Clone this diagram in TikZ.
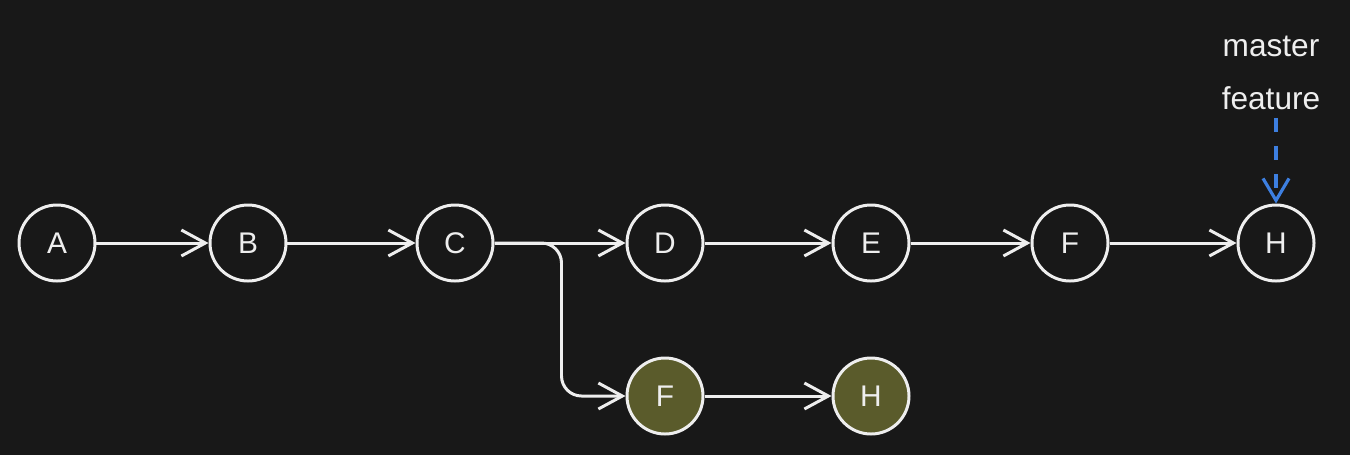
\documentclass[tikz,border=0pt]{standalone}
\usepackage{fontspec}
\setmainfont{Liberation Sans}
\usetikzlibrary{arrows.meta}
\definecolor{bg}{HTML}{181818}
\definecolor{ink}{HTML}{EEEEEE}
\definecolor{commitgreen}{HTML}{5A5B2B}
\definecolor{refblue}{HTML}{3D7FE0}
\tikzset{
  commit/.style={circle, draw=ink, line width=0.85pt, minimum size=7.6mm, inner sep=0pt,
    text=ink, font=\fontsize{8.5}{8.5}\selectfont},
  newcommit/.style={commit, fill=commitgreen},
  link/.style={draw=ink, line width=0.85pt, -{Straight Barb[length=2.4mm,width=2.6mm]}},
  branchref/.style={text=ink, font=\fontsize{9}{9}\selectfont, inner sep=1pt},
}
\begin{document}
\begin{tikzpicture}[x=0.1mm,y=-0.1mm] % 1 unit = 1px
        \fill[bg] (0,0) rectangle (1350,455);

        % main line
        \node[commit] (A) at (57,243) {A};
        \node[commit] (B) at (248,243) {B};
        \node[commit] (C) at (455,243) {C};
        \node[commit] (D) at (665,243) {D};
        \node[commit] (E) at (871,243) {E};
        \node[commit] (F) at (1070,243) {F};
        \node[commit] (H) at (1276,243) {H};

        % new commits
        \node[newcommit] (F2) at (665,396) {F};
        \node[newcommit] (H2) at (871,396) {H};

        \draw[link] (A) -- (B);
        \draw[link] (B) -- (C);
        \draw[link] (C) -- (D);
        \draw[link] (D) -- (E);
        \draw[link] (E) -- (F);
        \draw[link] (F) -- (H);
        \draw[link, rounded corners=2mm] (C.east) -- ++(67,0) |- (F2.west);
        \draw[link] (F2) -- (H2);

        % refs
        \node[branchref] (master) at (1271,46) {master};
        \node[branchref] (feature) at (1271,98) {feature};
        \draw[refblue, line width=0.9pt, dash pattern=on 1.4mm off 1.4mm,
              shorten <=0.4mm, -{Straight Barb[length=2.2mm,width=2.6mm]}] (feature.south -| H) -- (H.north);
\end{tikzpicture}
\end{document}
